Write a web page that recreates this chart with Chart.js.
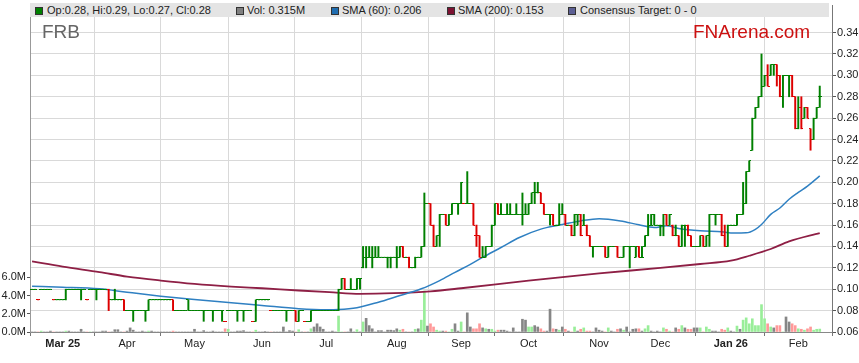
<!DOCTYPE html>
<html>
<head>
<meta charset="utf-8">
<title>FRB</title>
<script src="https://cdn.jsdelivr.net/npm/chart.js@4.4.0/dist/chart.umd.min.js"></script>
<style>
  body { margin: 0; background: #fff; }
  #wrap { position: relative; width: 859px; height: 363px; font-family: "Liberation Sans", Arial, sans-serif; }
  #chart { position: absolute; left: 0; top: 0; }
  .band { position: absolute; left: 30px; top: 3px; width: 799px; height: 14px; background: #e4e4e4; }
  .key { position: absolute; top: 4px; font-size: 11px; line-height: 12px; color: #222; white-space: nowrap; }
  .sq { position: absolute; top: 7px; width: 6px; height: 6px; border: 1px solid #333; }
  .title { position: absolute; top: 22px; font-size: 19px; line-height: 20px; white-space: nowrap; }
</style>
</head>
<body>
<div id="wrap">
  <canvas id="chart" width="859" height="363"></canvas>
  <div class="band"></div>
  <div class="sq" style="left:35px;background:#008000"></div>
  <div class="key" style="left:47px">Op:0.28, Hi:0.29, Lo:0.27, Cl:0.28</div>
  <div class="sq" style="left:236px;background:#808080"></div>
  <div class="key" style="left:247px">Vol: 0.315M</div>
  <div class="sq" style="left:331px;background:#1f6db0"></div>
  <div class="key" style="left:342px">SMA (60): 0.206</div>
  <div class="sq" style="left:447px;background:#7d1232"></div>
  <div class="key" style="left:458px">SMA (200): 0.153</div>
  <div class="sq" style="left:568px;background:#5c5f94"></div>
  <div class="key" style="left:580px">Consensus Target: 0 - 0</div>
  <div class="title" style="left:42px;color:#666">FRB</div>
  <div class="title" style="left:693px;color:#cc1111">FNArena.com</div>
</div>
<script>
// bar index 0 = first trading day of March 2025, one slot per weekday
var firstDay = -10;

var monthStarts = [0, 21, 43, 65, 86, 109, 130, 152, 175, 195, 218, 240];
var monthLabels = ['Mar 25', 'Apr', 'May', 'Jun', 'Jul', 'Aug', 'Sep', 'Oct', 'Nov', 'Dec', 'Jan 26', 'Feb'];
var priceTicks = [0.06, 0.08, 0.10, 0.12, 0.14, 0.16, 0.18, 0.20, 0.22, 0.24, 0.26, 0.28, 0.30, 0.32, 0.34];
var volTicks = [0, 2, 4, 6];

var open = [
  .10,.10,.09,.10,.10,.10,.10,.09,.09,.09,
  .09,.09,.10,.10,.10,.10,.10,.10,.09,.10,
  .10,.10,.10,.10,.10,.10,.09,.09,.09,.09,
  .09,.08,.08,.08,.08,.08,.08,.08,.08,.09,
  .09,.09,.09,.09,.09,.09,.09,.08,.08,.08,
  .08,.09,.08,.08,.08,.08,.08,.08,.08,.08,
  .08,.08,.08,.07,.08,.08,.08,.08,.08,.08,
  .08,.08,.07,.07,.09,.09,.09,.09,.08,.08,
  .08,.08,.08,.08,.08,.08,.08,.07,.08,.07,
  .07,.07,.08,.08,.08,.08,.08,.08,.08,.08,
  .08,.10,.11,.10,.10,.10,.10,.11,.12,.13,
  .13,.13,.13,.13,.13,.13,.13,.13,.13,.13,
  .13,.14,.13,.13,.12,.12,.13,.13,.14,.18,
  .18,.16,.14,.15,.17,.17,.16,.17,.18,.18,
  .18,.18,.18,.18,.18,.15,.15,.13,.13,.14,
  .14,.16,.18,.17,.17,.17,.17,.17,.17,.17,
  .17,.17,.17,.18,.19,.19,.19,.18,.17,.17,
  .17,.16,.16,.17,.17,.16,.16,.15,.16,.17,
  .16,.16,.15,.14,.14,.14,.14,.14,.13,.14,
  .14,.14,.13,.13,.14,.14,.14,.13,.14,.13,
  .14,.15,.16,.17,.16,.16,.16,.17,.16,.16,
  .15,.15,.14,.16,.16,.15,.14,.14,.14,.15,
  .14,.15,.17,.17,.17,.17,.15,.14,.16,.16,
  .16,.17,.17,.18,.21,.23,.26,.27,.28,.29,
  .30,.30,.31,.31,.30,.28,.30,.30,.30,.28,
  .25,.27,.26,.27,.25,.24,.26,.28
];
var high = [
  .10,.10,.09,.10,.10,.10,.10,.09,.09,.09,
  .09,.10,.10,.10,.10,.10,.10,.10,.09,.10,
  .10,.10,.10,.10,.10,.10,.09,.10,.09,.09,
  .09,.08,.08,.08,.08,.08,.08,.08,.09,.09,
  .09,.09,.09,.09,.09,.09,.09,.08,.08,.08,
  .08,.09,.08,.08,.08,.08,.08,.08,.08,.08,
  .08,.08,.08,.07,.08,.08,.08,.08,.08,.08,
  .08,.08,.07,.09,.09,.09,.09,.09,.08,.08,
  .08,.08,.08,.08,.08,.08,.08,.08,.08,.07,
  .07,.08,.08,.08,.08,.08,.08,.08,.08,.08,
  .10,.11,.11,.10,.11,.10,.11,.11,.14,.14,
  .14,.14,.14,.14,.13,.13,.13,.13,.13,.14,
  .14,.14,.13,.13,.12,.13,.13,.14,.19,.18,
  .18,.16,.15,.17,.17,.17,.17,.18,.18,.18,
  .20,.18,.21,.18,.18,.16,.15,.14,.14,.14,
  .16,.18,.18,.18,.17,.18,.18,.17,.18,.17,
  .19,.18,.18,.19,.20,.20,.19,.18,.17,.17,
  .17,.16,.18,.18,.17,.16,.16,.17,.17,.17,
  .17,.16,.15,.14,.14,.14,.14,.14,.14,.14,
  .14,.14,.13,.14,.14,.14,.14,.14,.14,.14,
  .15,.17,.17,.17,.16,.16,.17,.17,.17,.16,
  .16,.15,.16,.16,.16,.15,.14,.14,.15,.15,
  .15,.17,.17,.17,.17,.17,.16,.16,.16,.16,
  .17,.17,.20,.21,.22,.26,.27,.28,.32,.30,
  .31,.31,.31,.31,.30,.30,.30,.30,.30,.28,
  .28,.28,.27,.27,.25,.26,.27,.29
];
var low = [
  .10,.10,.09,.10,.10,.10,.10,.09,.09,.09,
  .09,.09,.10,.10,.10,.10,.09,.10,.09,.10,
  .10,.09,.10,.10,.10,.08,.09,.09,.09,.09,
  .08,.08,.08,.07,.08,.08,.08,.07,.08,.09,
  .09,.09,.09,.09,.09,.09,.08,.08,.08,.08,
  .08,.08,.08,.08,.08,.08,.07,.08,.08,.07,
  .08,.08,.07,.07,.08,.08,.08,.07,.08,.07,
  .08,.08,.07,.07,.09,.09,.09,.09,.08,.08,
  .08,.08,.08,.07,.08,.08,.07,.07,.08,.07,
  .07,.07,.08,.08,.08,.08,.08,.08,.08,.08,
  .08,.10,.10,.10,.10,.10,.10,.10,.12,.12,
  .13,.12,.13,.13,.13,.13,.12,.12,.13,.12,
  .13,.13,.13,.12,.12,.12,.13,.13,.14,.18,
  .16,.14,.14,.14,.17,.16,.16,.17,.18,.17,
  .18,.18,.18,.18,.16,.14,.13,.13,.13,.14,
  .14,.16,.17,.17,.17,.17,.17,.17,.17,.17,
  .16,.17,.17,.18,.18,.19,.18,.17,.17,.16,
  .16,.16,.16,.17,.16,.16,.15,.15,.16,.15,
  .16,.15,.14,.13,.14,.14,.14,.13,.13,.14,
  .14,.13,.13,.13,.14,.12,.14,.13,.13,.13,
  .14,.15,.16,.16,.16,.15,.15,.16,.16,.15,
  .15,.14,.14,.14,.15,.14,.14,.14,.14,.14,
  .14,.14,.17,.16,.17,.15,.14,.14,.16,.16,
  .16,.17,.17,.18,.21,.23,.26,.27,.28,.29,
  .29,.30,.30,.29,.28,.27,.30,.28,.28,.25,
  .25,.25,.26,.26,.23,.24,.26,.27
];
var close = [
  .10,.10,.09,.10,.10,.10,.10,.09,.09,.09,
  .09,.10,.10,.10,.10,.10,.10,.10,.09,.10,
  .10,.10,.10,.10,.10,.09,.09,.09,.09,.09,
  .08,.08,.08,.08,.08,.08,.08,.08,.09,.09,
  .09,.09,.09,.09,.09,.09,.08,.08,.08,.08,
  .08,.08,.08,.08,.08,.08,.08,.08,.08,.08,
  .08,.08,.08,.07,.08,.08,.08,.08,.08,.08,
  .08,.08,.07,.09,.09,.09,.09,.09,.08,.08,
  .08,.08,.08,.08,.08,.08,.07,.08,.08,.07,
  .07,.08,.08,.08,.08,.08,.08,.08,.08,.08,
  .10,.11,.10,.10,.10,.10,.11,.11,.13,.13,
  .13,.13,.13,.13,.13,.13,.13,.13,.13,.13,
  .14,.13,.13,.12,.12,.13,.13,.14,.18,.18,
  .16,.14,.15,.17,.17,.16,.17,.18,.18,.18,
  .20,.18,.18,.18,.16,.15,.13,.13,.14,.14,
  .16,.18,.17,.17,.17,.17,.17,.17,.17,.17,
  .17,.17,.18,.19,.19,.19,.18,.17,.17,.17,
  .16,.16,.17,.17,.16,.16,.15,.17,.17,.15,
  .16,.15,.14,.14,.14,.14,.14,.13,.14,.14,
  .14,.13,.13,.14,.14,.14,.14,.14,.13,.13,
  .15,.16,.16,.16,.16,.16,.17,.16,.17,.15,
  .15,.14,.16,.16,.15,.14,.14,.14,.15,.14,
  .15,.17,.17,.17,.17,.15,.14,.16,.16,.16,
  .17,.17,.18,.21,.22,.26,.27,.28,.29,.30,
  .29,.31,.31,.30,.28,.30,.30,.30,.28,.25,
  .27,.25,.27,.26,.24,.26,.27,.28
];
// volume in millions of shares
var volume = [
  0,0,0,0.1,0,0,0.1,0,0,0,
  0,0.1,0.1,0,0,0,0.3,0,0,0,
  0,0,0,0.1,0.1,0,0,0.25,0.25,0,
  0,0.1,0.45,0.2,0,0,0.1,0,0.1,0.1,
  0,0,0,0,0,0,0.1,0,0,0,
  0,0,0,0.3,0,0,0.15,0,0,0.1,
  0,0,0,0.35,0.3,0,0,0.1,0.1,0.15,
  0,0,0,0.2,0,0,0.05,0,0,0,
  0,0,0.55,0,0.15,0.1,0,0.25,0,0,
  0,0.35,0.55,0.9,0.55,0.3,0,0,0.1,0,
  1.75,0,0,0,0.35,0,0.25,0,1.1,1.5,
  0.7,0.35,0,0.15,0.15,0,0.2,0.2,0.15,0.35,
  0.2,0.3,0,0,0,0.3,0.35,1.3,4.5,0.65,
  0.9,0.55,0.2,0.1,0.1,0.1,0,0.3,0.9,0.1,
  1.1,0,2.1,0.55,0.35,0.35,0.9,0.45,0.35,0.3,
  0.3,0.1,0.2,0.2,0.2,0.1,0,0.45,0,0,
  1.4,1.3,0.55,0.55,0.7,0.55,0.35,0.1,0.1,2.5,
  0.35,0.3,0.2,0.55,0.3,0.1,0,0.55,0.1,0.3,
  0.45,0.1,0.1,0,0.45,0.2,0.1,0,0.45,0.1,
  0,0.3,0.35,0.2,0.55,0,0.3,0.35,0.35,0.1,
  0.35,0.7,0.1,0,0.1,0,0.45,0.3,0.1,0,
  0.45,0.3,0.7,0.45,0.3,0.3,0.45,0.45,0.45,0,
  0.55,0.3,0.1,0.1,0,0.3,0.2,0.45,0.1,0,
  0.65,0.3,1.3,1.55,0.9,1.45,0.7,0.7,3.0,1.45,
  0.9,0.55,0.45,0.7,0.7,0,1.65,1.1,0.9,0.7,
  0.35,0.3,0.2,0.35,0.55,0.2,0.3,0.32
];

var sma60Days = [-10, 0, 12, 21, 32, 43, 55, 65, 77, 86, 90, 96, 103, 109, 117, 123, 128, 133, 137, 143, 149, 156, 162, 169, 175, 182, 188, 193, 197, 201, 208, 215, 219, 223, 226, 228, 231, 234, 237, 240, 243, 247];
var sma60 = [0.1027, 0.1019, 0.1004, 0.0972, 0.0935, 0.0904, 0.0873, 0.0848, 0.0818, 0.0808, 0.0810, 0.0827, 0.0879, 0.0932, 0.1004, 0.1081, 0.1158, 0.1232, 0.1298, 0.1390, 0.1484, 0.1562, 0.1600, 0.1639, 0.1660, 0.1639, 0.1602, 0.1577, 0.1593, 0.1568, 0.1546, 0.1537, 0.1525, 0.1527, 0.1560, 0.1605, 0.1700, 0.1760, 0.1841, 0.1905, 0.1965, 0.2060];
var sma200Days = [-10, 0, 12, 21, 32, 43, 55, 65, 77, 87, 97, 108, 120, 130, 152, 175, 195, 208, 218, 224, 231, 237, 247];
var sma200 = [0.1260, 0.1211, 0.1160, 0.1118, 0.1081, 0.1050, 0.1025, 0.1009, 0.0988, 0.0972, 0.0957, 0.0963, 0.0980, 0.1009, 0.1081, 0.1149, 0.1199, 0.1236, 0.1267, 0.1313, 0.1376, 0.1447, 0.1525];

var UP = '#008000', DOWN = '#dd0000';

function trend(k) {
  var prev = k > 0 ? close[k - 1] : open[k];
  if (close[k] > prev + 1e-9) return 1;
  if (close[k] < prev - 1e-9) return -1;
  return 0;
}
function barColor(k) { return trend(k) < 0 ? DOWN : UP; }
function volColor(k) {
  var t = trend(k);
  return t > 0 ? '#99ee99' : (t < 0 ? '#ff9999' : '#868686');
}

// small images used as point styles: left tick = open, right tick = close
function tickImage(color, side) {
  var c = document.createElement('canvas');
  c.width = 4; c.height = 1;
  var g = c.getContext('2d');
  g.fillStyle = color;
  g.fillRect(side === 'open' ? 0 : 2, 0, 2, 1);
  return c;
}
var imgs = {
  open: { up: tickImage(UP, 'open'), down: tickImage(DOWN, 'open') },
  close: { up: tickImage(UP, 'close'), down: tickImage(DOWN, 'close') }
};

function pts(xs, ys) { return xs.map(function(x, k) { return { x: x, y: ys[k] }; }); }
var days = close.map(function(c, k) { return firstDay + k; });

function noPad(scale) { scale.paddingTop = 0; scale.paddingBottom = 0; scale.paddingLeft = 0; scale.paddingRight = 0; }

window.addEventListener('DOMContentLoaded', function() {
  var ctx = document.getElementById('chart').getContext('2d');

  new Chart(ctx, {
    type: 'bar',
    data: {
      datasets: [
        {
          type: 'bar', label: 'Vol', yAxisID: 'yv', order: 5, grouped: false,
          data: pts(days, volume),
          backgroundColor: function(c) { return volColor(c.dataIndex); },
          barThickness: 2
        },
        {
          type: 'line', label: 'SMA (200)', yAxisID: 'y', order: 4,
          data: pts(sma200Days, sma200),
          borderColor: '#8e1f45', borderWidth: 1.8, pointRadius: 0, cubicInterpolationMode: 'monotone'
        },
        {
          type: 'line', label: 'SMA (60)', yAxisID: 'y', order: 3,
          data: pts(sma60Days, sma60),
          borderColor: '#2f80c2', borderWidth: 1.5, pointRadius: 0, cubicInterpolationMode: 'monotone'
        },
        {
          type: 'bar', label: 'Range', yAxisID: 'y', order: 2, grouped: false,
          data: days.map(function(d, k) { return { x: d, y: [low[k], high[k]] }; }),
          backgroundColor: function(c) { return barColor(c.dataIndex); },
          barThickness: 1.3
        },
        {
          type: 'line', label: 'Open', yAxisID: 'y', order: 1, showLine: false,
          data: pts(days, open),
          pointRadius: 1,
          pointStyle: function(c) { return trend(c.dataIndex) < 0 ? imgs.open.down : imgs.open.up; }
        },
        {
          type: 'line', label: 'Close', yAxisID: 'y', order: 1, showLine: false,
          data: pts(days, close),
          pointRadius: 1,
          pointStyle: function(c) { return trend(c.dataIndex) < 0 ? imgs.close.down : imgs.close.up; }
        }
      ]
    },
    options: {
      responsive: false,
      animation: false,
      events: [],
      layout: { padding: { top: 3, left: 0, right: 0, bottom: 0 } },
      plugins: { legend: { display: false }, tooltip: { enabled: false } },
      scales: {
        x: {
          type: 'linear', offset: false,
          min: -10.67, max: 251,
          afterBuildTicks: function(s) { s.ticks = monthStarts.map(function(v) { return { value: v }; }); },
          afterFit: function(s) { s.height = 31; noPad(s); },
          grid: { color: '#d9d9d9', tickColor: '#777', tickLength: 4 },
          border: { color: '#888' },
          ticks: {
            autoSkip: false, maxRotation: 0, padding: 1, color: '#222',
            callback: function(v) { var k = monthStarts.indexOf(v); return k < 0 ? '' : monthLabels[k]; },
            font: function(c) {
              var k = c.tick ? monthStarts.indexOf(c.tick.value) : -1;
              var yr = k >= 0 && monthLabels[k].indexOf(' ') > 0;
              return { family: 'Liberation Sans, Arial, sans-serif', size: 11, weight: yr ? 'bold' : 'normal' };
            }
          }
        },
        y: {
          position: 'right', min: 0.06, max: 0.3658,
          afterBuildTicks: function(s) { s.ticks = priceTicks.map(function(v) { return { value: v }; }); },
          afterFit: function(s) { s.width = 27; noPad(s); },
          grid: { color: '#d9d9d9', tickColor: '#555', tickLength: 4 },
          border: { color: '#777' },
          ticks: {
            padding: 1, color: '#222',
            font: { family: 'Liberation Sans, Arial, sans-serif', size: 11 },
            callback: function(v) { return v.toFixed(2); }
          }
        },
        yv: {
          position: 'left', min: 0, max: 35.85,
          afterBuildTicks: function(s) { s.ticks = volTicks.map(function(v) { return { value: v }; }); },
          afterFit: function(s) { s.width = 30; noPad(s); },
          grid: { drawOnChartArea: false, tickColor: '#555', tickLength: 3 },
          border: { color: '#999' },
          ticks: {
            padding: 1, color: '#222',
            font: { family: 'Liberation Sans, Arial, sans-serif', size: 11 },
            callback: function(v) { return v.toFixed(1) + 'M'; }
          }
        }
      }
    }
  });
});
</script>
</body>
</html>
